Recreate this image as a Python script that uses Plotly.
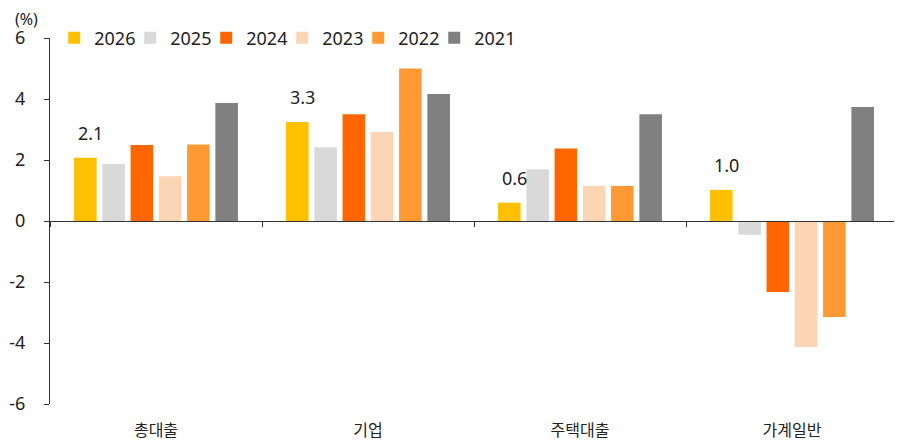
import plotly.graph_objects as go

categories = ["총대출", "기업", "주택대출", "가계일반"]
years = ["2026", "2025", "2024", "2023", "2022", "2021"]
values = {
    "2026": [2.07, 3.25, 0.6, 1.02],
    "2025": [1.87, 2.42, 1.7, -0.45],
    "2024": [2.49, 3.5, 2.38, -2.33],
    "2023": [1.47, 2.92, 1.15, -4.13],
    "2022": [2.51, 5.0, 1.15, -3.15],
    "2021": [3.87, 4.16, 3.5, 3.74],
}
label_texts = ["2.1", "3.3", "0.6", "1.0"]
colors = {
    "2026": "#FFC000",
    "2025": "#D9D9D9",
    "2024": "#FF6600",
    "2023": "#FCD5B5",
    "2022": "#FF9933",
    "2021": "#808080",
}
y_ticks = [6, 4, 2, 0, -2, -4, -6]

FONT = "Noto Sans, Noto Sans CJK KR, sans-serif"
KFONT = "Noto Sans CJK KR, sans-serif"
xs = list(range(len(categories)))

fig = go.Figure()
for yr in years:
    fig.add_trace(go.Bar(
        x=xs, y=values[yr], name=yr,
        marker=dict(color=colors[yr], line=dict(width=0)),
        hoverinfo="skip",
    ))

# invisible trace on the zero-line axis (creates it); its transparent legend
# entry also keeps the last legend label from being clipped
fig.add_trace(go.Scatter(x=[-0.5, len(categories) - 0.5], y=[0, 0], xaxis="x2",
                         mode="markers", name=" ",
                         marker=dict(color="rgba(0,0,0,0)", size=1),
                         showlegend=True, hoverinfo="skip"))

# value labels above 2026 bars
nb = len(years)
group_w = 0.8
first_off = -group_w / 2 + group_w / nb / 2
for i, (v, t) in enumerate(zip(values["2026"], label_texts)):
    fig.add_annotation(x=i + first_off + 0.025, y=v, text=t, showarrow=False,
                       yanchor="bottom", yshift=11,
                       font=dict(size=18, color="#222222", family=FONT))

fig.add_annotation(x=-0.044, y=1.0, xref="paper", yref="paper", text="(%)",
                   showarrow=False, xanchor="left", yanchor="bottom", yshift=6,
                   font=dict(size=16, color="#222222", family=FONT))

fig.update_layout(
    width=894, height=436,
    margin=dict(l=42, r=4, t=30, b=40, autoexpand=False),
    paper_bgcolor="white", plot_bgcolor="white",
    barmode="group", bargap=0.2, bargroupgap=0.2,
    font=dict(family=FONT, size=18, color="#222222"),
    showlegend=True,
    legend=dict(orientation="h", x=0.005, y=1.0, xanchor="left", yanchor="middle",
                font=dict(size=18, family=FONT, color="#222222"),
                itemwidth=30, traceorder="normal", bgcolor="rgba(0,0,0,0)",
                entrywidth=31, itemclick=False),
    xaxis=dict(range=[-0.5, len(categories) - 0.5], tickvals=xs, ticktext=categories,
               showline=False, ticks="", showgrid=False, zeroline=False,
               ticklabelstandoff=15, tickfont=dict(size=16, family=KFONT)),
    xaxis2=dict(overlaying="x", anchor="free", position=0.5, matches="x",
                range=[-0.5, len(categories) - 0.5],
                tickvals=[i - 0.5 for i in range(len(categories) + 1)],
                showticklabels=False, showline=True, linecolor="#333333", linewidth=1.3,
                ticks="outside", ticklen=5, tickcolor="#333333", showgrid=False,
                zeroline=False),
    yaxis=dict(range=[-6, 6], tickvals=y_ticks, ticktext=[str(v) for v in y_ticks],
               showline=True, linecolor="#333333", linewidth=1.3, ticks="outside",
               ticklen=5, tickcolor="#333333", showgrid=False, zeroline=False,
               tickfont=dict(size=18, family=FONT), ticklabelstandoff=15),
)

fig.write_html("out.html")
